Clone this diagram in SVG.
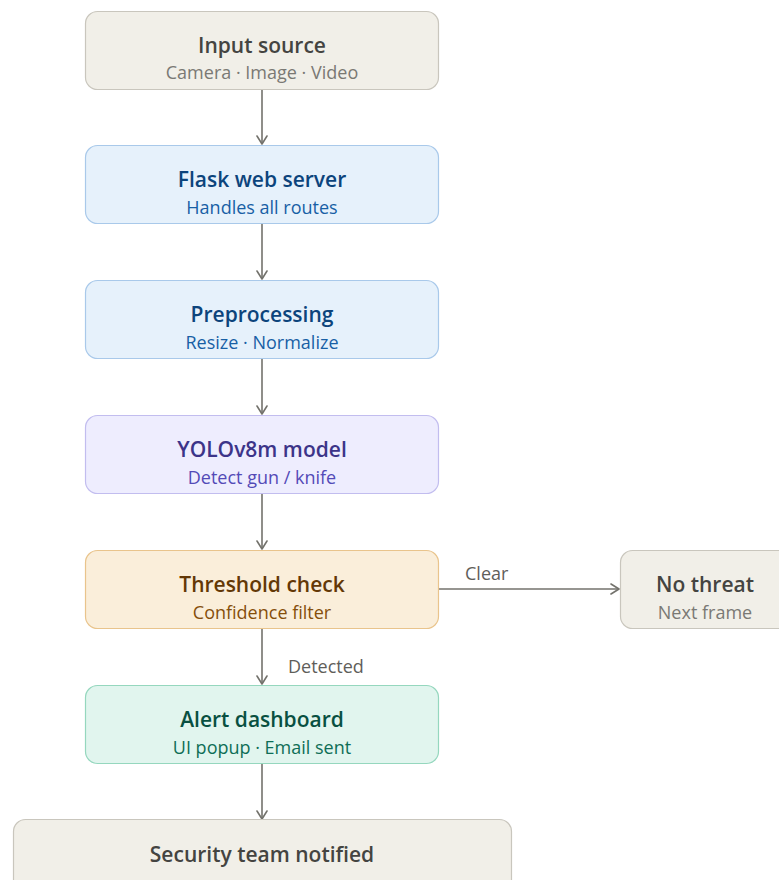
<svg xmlns="http://www.w3.org/2000/svg" width="779" height="880" viewBox="0 0 779 880">
<defs>
<marker id="arr" viewBox="0 0 10 12" refX="9" refY="6" markerWidth="10" markerHeight="12" orient="auto-start-reverse" markerUnits="userSpaceOnUse">
<path d="M1 1 L9 6 L1 11" fill="none" stroke="#73726c" stroke-width="1.6" stroke-linecap="round" stroke-linejoin="round"/>
</marker>
<style>
rect{stroke-width:1.2}
.t{font-family:"Open Sans","Noto Sans",sans-serif;font-size:21px;font-weight:600;text-anchor:middle}
.s{font-family:"Open Sans","Noto Sans",sans-serif;font-size:18px;font-weight:400;text-anchor:middle}
.l{font-family:"Open Sans","Noto Sans",sans-serif;font-size:18px;fill:#5f5e5a}
.gray rect{fill:#f1efe8;stroke:#c9c6bd}.gray .t{fill:#444441}.gray .s{fill:#7a7974}
.blue rect{fill:#e6f1fb;stroke:#a9c9ea}.blue .t{fill:#0c447c}.blue .s{fill:#185fa5}
.purple rect{fill:#eeedfe;stroke:#c2bdef}.purple .t{fill:#3c3489}.purple .s{fill:#534ab7}
.amber rect{fill:#faeeda;stroke:#e9c48c}.amber .t{fill:#633806}.amber .s{fill:#854f0b}
.teal rect{fill:#e1f5ee;stroke:#95d7be}.teal .t{fill:#085041}.teal .s{fill:#0f6e56}
.c{fill:none;stroke:#73726c;stroke-width:1.6}
</style>
</defs>
<rect width="779" height="880" fill="#ffffff"/>
<g id="connectors">
<line class="c" x1="262" y1="90" x2="262" y2="144" marker-end="url(#arr)"/>
<line class="c" x1="262" y1="224" x2="262" y2="279" marker-end="url(#arr)"/>
<line class="c" x1="262" y1="358" x2="262" y2="414" marker-end="url(#arr)"/>
<line class="c" x1="262" y1="493" x2="262" y2="549" marker-end="url(#arr)"/>
<line class="c" x1="262" y1="628" x2="262" y2="684" marker-end="url(#arr)"/>
<line class="c" x1="262" y1="763" x2="262" y2="819" marker-end="url(#arr)"/>
<line class="c" x1="439" y1="589" x2="619" y2="589" marker-end="url(#arr)"/>
<text class="l" x="465" y="580">Clear</text>
<text class="l" x="288" y="673">Detected</text>
</g>
<g id="input" class="gray">
<rect x="85.5" y="11.5" width="353" height="78" rx="12"/>
<text class="t" x="262" y="53">Input source</text>
<text class="s" x="262" y="79">Camera · Image · Video</text>
</g>
<g id="flask" class="blue">
<rect x="85.5" y="145.5" width="353" height="78" rx="12"/>
<text class="t" x="262" y="187">Flask web server</text>
<text class="s" x="262" y="214">Handles all routes</text>
</g>
<g id="preprocessing" class="blue">
<rect x="85.5" y="280.5" width="353" height="78" rx="12"/>
<text class="t" x="262" y="322">Preprocessing</text>
<text class="s" x="262" y="349">Resize · Normalize</text>
</g>
<g id="yolo" class="purple">
<rect x="85.5" y="415.5" width="353" height="78" rx="12"/>
<text class="t" x="262" y="457">YOLOv8m model</text>
<text class="s" x="262" y="484">Detect gun / knife</text>
</g>
<g id="threshold" class="amber">
<rect x="85.5" y="550.5" width="353" height="78" rx="12"/>
<text class="t" x="262" y="592">Threshold check</text>
<text class="s" x="262" y="619">Confidence filter</text>
</g>
<g id="nothreat" class="gray">
<rect x="620.5" y="550.5" width="170" height="78" rx="12"/>
<text class="t" x="705" y="592">No threat</text>
<text class="s" x="705" y="619">Next frame</text>
</g>
<g id="alert" class="teal">
<rect x="85.5" y="685.5" width="353" height="78" rx="12"/>
<text class="t" x="262" y="727">Alert dashboard</text>
<text class="s" x="262" y="754">UI popup · Email sent</text>
</g>
<g id="security" class="gray">
<rect x="13.5" y="819.5" width="498" height="80" rx="12"/>
<text class="t" x="262" y="862">Security team notified</text>
</g>
</svg>
